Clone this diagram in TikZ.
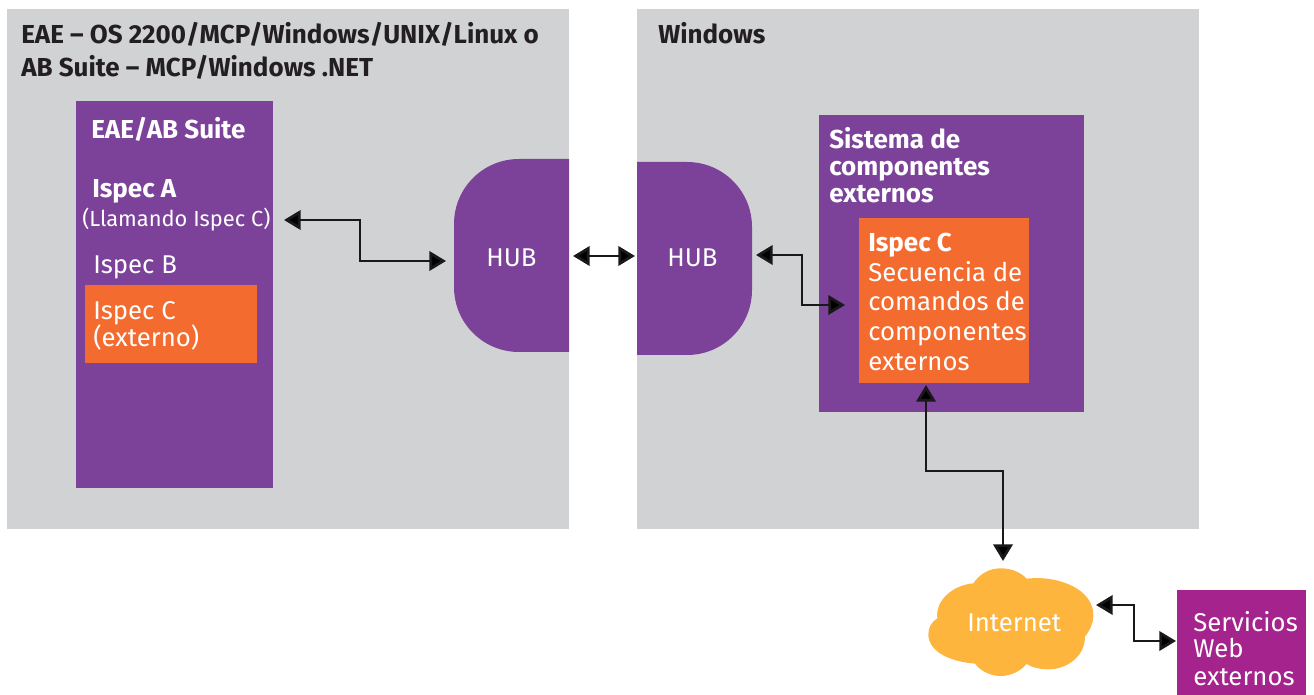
\documentclass[tikz,border=0pt]{standalone}
\usepackage{fontspec}
\setmainfont{Fira Sans}
\usetikzlibrary{arrows.meta}
\definecolor{panelgray}{HTML}{D1D2D4}
\definecolor{hubpurple}{HTML}{7C4299}
\definecolor{ispecorange}{HTML}{F46B30}
\definecolor{cloudyellow}{HTML}{FDB53E}
\definecolor{webmagenta}{HTML}{A4238C}
\definecolor{inkdark}{HTML}{231F20}
\tikzset{
  x=0.75pt,y=-0.75pt,
  box/.style={anchor=north west,inner sep=0pt,outer sep=0pt},
  panel/.style={box,fill=panelgray},
  purplebox/.style={box,fill=hubpurple},
  orangebox/.style={box,fill=ispecorange},
  webbox/.style={box,fill=webmagenta},
  darktitle/.style={anchor=base west,inner sep=0pt,text=inkdark,font=\fontsize{19.5pt}{19.5pt}\selectfont\bfseries},
  whitebold/.style={anchor=base west,inner sep=0pt,text=white,font=\fontsize{19.5pt}{19.5pt}\selectfont\bfseries},
  whitetext/.style={anchor=base west,inner sep=0pt,text=white,font=\fontsize{19.3pt}{19.3pt}\selectfont},
  whitesmall/.style={anchor=base west,inner sep=0pt,text=white,font=\fontsize{16.4pt}{16.4pt}\selectfont},
  link/.style={draw=black!90,line width=2.1pt,{Triangle[length=12.5pt,width=14.5pt,fill=black]}-{Triangle[length=12.5pt,width=14.5pt,fill=black]}},
}
\begin{document}
\begin{tikzpicture}
\useasboundingbox (0,0) rectangle (1314,695);
% panels
\node[panel,minimum width=562*0.75pt,minimum height=520*0.75pt] (leftpanel) at (7,9) {};
\node[panel,minimum width=562*0.75pt,minimum height=520*0.75pt] (rightpanel) at (637,9) {};
% purple boxes
\node[purplebox,minimum width=197*0.75pt,minimum height=387*0.75pt] (eaebox) at (76,101) {};
\node[orangebox,minimum width=172*0.75pt,minimum height=78*0.75pt] (ispecext) at (85,285) {};
\node[purplebox,minimum width=265*0.75pt,minimum height=297*0.75pt] (sysbox) at (819,115) {};
\node[orangebox,minimum width=170*0.75pt,minimum height=165*0.75pt] (ispecc) at (859,218) {};
\node[webbox,minimum width=129*0.75pt,minimum height=105*0.75pt] (webbox) at (1177,590) {};
% hubs
\fill[hubpurple] (569,159) -- (519,159) .. controls (483,159) and (454,188) .. (454,224)
  -- (454,287) .. controls (454,323) and (483,352) .. (519,352) -- (569,352) -- cycle;
\fill[hubpurple] (637,162) -- (687,162) .. controls (723,162) and (752,191) .. (752,227)
  -- (752,290) .. controls (752,326) and (723,355) .. (687,355) -- (637,355) -- cycle;
% cloud
\begin{scope}[shift={(900,540)},x=0.25pt,y=-0.25pt]
\fill[cloudyellow] (220,130) .. controls (240,100) and (270,85) .. (302,85)
  .. controls (335,85) and (362,97) .. (380,116)
  .. controls (480,105) and (580,150) .. (580,225)
  .. controls (580,250) and (570,270) .. (555,290)
  .. controls (555,350) and (500,388) .. (445,388)
  .. controls (420,388) and (395,382) .. (380,372)
  .. controls (360,395) and (330,408) .. (302,408)
  .. controls (270,408) and (240,392) .. (225,371)
  .. controls (150,365) and (85,335) .. (85,283)
  .. controls (85,262) and (95,245) .. (112,235)
  .. controls (105,180) and (160,135) .. (220,130) -- cycle;
\end{scope}
% texts
\node[darktitle] (t1) at (21,44) {EAE – OS 2200/MCP/Windows/UNIX/Linux o};
\node[darktitle] (t2) at (21,77) {AB Suite – MCP/Windows .NET};
\node[darktitle] (t3) at (658,44) {Windows};
\node[whitebold] (t4) at (91,139) {EAE/AB Suite};
\node[whitebold] (t5) at (92,198) {Ispec A};
\node[whitesmall] (t6) at (82,227) {(Llamando Ispec C)};
\node[whitetext] (t7) at (93,274) {Ispec B};
\node[whitetext] (t8) at (93,320) {Ispec C};
\node[whitetext] (t9) at (93,347) {(externo)};
\node[whitetext] (hubl) at (486,267) {HUB};
\node[whitetext] (hubr) at (667,267) {HUB};
\node[whitebold] (s1) at (829,149) {Sistema de};
\node[whitebold] (s2) at (829,176) {componentes};
\node[whitebold] (s3) at (829,203) {externos};
\node[whitebold] (c1) at (868,252) {Ispec C};
\node[whitetext] (c2) at (868,282) {Secuencia de};
\node[whitetext] (c3) at (868,311) {comandos de};
\node[whitetext] (c4) at (868,340) {componentes};
\node[whitetext] (c5) at (868,370) {externos};
\node[whitetext] (inet) at (967,631) {Internet};
\node[whitetext] (w1) at (1193,631) {Servicios};
\node[whitetext] (w2) at (1193,657) {Web};
\node[whitetext] (w3) at (1193,685) {externos};
% connector ends
\coordinate (a1) at (284,220);
\coordinate (a2) at (446,261);
\coordinate (b1) at (573,256);
\coordinate (b2) at (635,256);
\coordinate (d1) at (756,255);
\coordinate (d2) at (845,305);
\coordinate (e1) at (926,385);
\coordinate (e2) at (1003,561);
\coordinate (f1) at (1096,605);
\coordinate (f2) at (1176,641);
\draw[link] (a1) -- (360,220) -- (360,261) -- (a2);
\draw[link] (b1) -- (b2);
\draw[link] (d1) -- (802,255) -- (802,305) -- (d2);
\draw[link] (e1) -- (926,471) -- (1003,471) -- (e2);
\draw[link] (f1) -- (1134,605) -- (1134,641) -- (f2);
\end{tikzpicture}
\end{document}
